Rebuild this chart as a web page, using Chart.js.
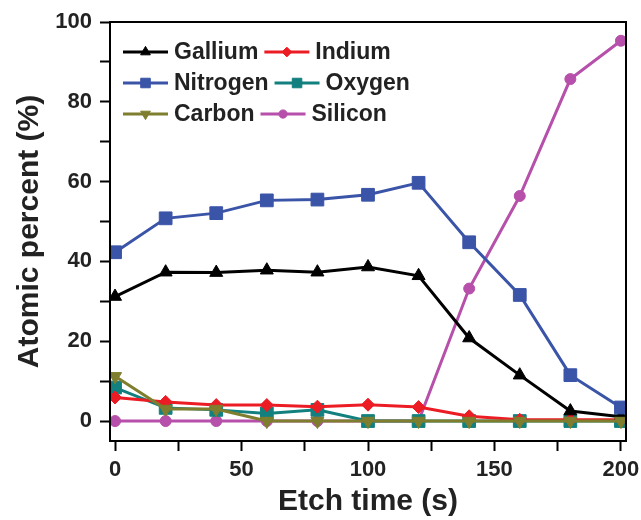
<!DOCTYPE html>
<html>
<head>
<meta charset="utf-8">
<script src="https://cdn.jsdelivr.net/npm/chart.js@4.4.1/dist/chart.umd.min.js"></script>
<style>
  html, body { margin: 0; padding: 0; background: #fff; }
  #wrap { width: 641px; height: 520px; }
</style>
</head>
<body>
<div id="wrap"><canvas id="myChart" width="641" height="520"></canvas></div>
<script>
// etch time (s)
const times = [0, 20, 40, 60, 80, 100, 120, 140, 160, 180, 200];

// atomic percent (%)
const gallium  = [31.2, 37.3, 37.2, 37.8, 37.3, 38.6, 36.4, 20.8, 11.5, 2.5, 1.1];
const indium   = [5.9, 4.8, 4.0, 4.0, 3.6, 4.1, 3.5, 1.2, 0.3, 0.3, 0.3];
const nitrogen = [42.3, 50.8, 52.1, 55.3, 55.5, 56.7, 59.7, 44.8, 31.6, 11.5, 3.4];
const oxygen   = [8.4, 3.3, 2.8, 1.9, 2.8, 0, 0, 0, 0, 0, 0];
const carbon   = [11.2, 3.0, 3.0, 0, 0, 0, 0, 0, 0, 0, 0];
const silicon  = [0, 0, 0, 0, 0, 0, 0, 33.2, 56.4, 85.7, 95.3];

// labelled ticks, and every tick mark (major + minor)
const xTickLabels = [0, 50, 100, 150, 200];
const yTickLabels = [0, 20, 40, 60, 80, 100];
const xTickMarks = [0, 25, 50, 75, 100, 125, 150, 175, 200];
const yTickMarks = [0, 10, 20, 30, 40, 50, 60, 70, 80, 90, 100];

const FONT = "'Liberation Sans', Arial, sans-serif";

function series(label, values, color, style, radius, rotation, order) {
  return {
    label: label,
    data: times.map((t, i) => ({ x: t, y: values[i] })),
    borderColor: color,
    backgroundColor: color,
    borderWidth: 3,
    pointStyle: style,
    pointRadius: radius,
    pointRotation: rotation,
    pointBorderWidth: 1,
    pointBorderColor: color,
    pointBackgroundColor: color,
    tension: 0,
    order: order
  };
}

const datasets = [
  series('Gallium', gallium, '#000000', 'triangle', 7.5, 0, 3),
  series('Indium', indium, '#ec1c24', 'rectRot', 6.5, 0, 4),
  series('Nitrogen', nitrogen, '#3a54a8', 'rect', 9, 0, 2),
  series('Oxygen', oxygen, '#12807e', 'rect', 9, 0, 5),
  series('Carbon', carbon, '#7e7e2e', 'triangle', 7.5, 180, 1),
  series('Silicon', silicon, '#b650aa', 'circle', 5.5, 0, 6)
];

// frame round the plot + legend inside it, two entries per row
const framePlugin = {
  id: 'frame',
  afterDatasetsDraw(chart) {
    const ctx = chart.ctx;
    const a = chart.chartArea;
    ctx.save();
    ctx.strokeStyle = '#000';
    ctx.lineWidth = 2;
    ctx.strokeRect(a.left, a.top, a.right - a.left, a.bottom - a.top);

    ctx.font = 'bold 23px ' + FONT;
    ctx.textBaseline = 'middle';
    const rows = [52, 83, 114];
    const ds = chart.data.datasets;
    for (let r = 0; r < 3; r++) {
      let x = 123;
      for (let c = 0; c < 2; c++) {
        const d = ds[r * 2 + c];
        const y = rows[r];
        ctx.strokeStyle = d.borderColor;
        ctx.fillStyle = d.borderColor;
        ctx.lineWidth = 3;
        ctx.beginPath();
        ctx.moveTo(x, y);
        ctx.lineTo(x + 45, y);
        ctx.stroke();
        ctx.lineWidth = 1;
        Chart.helpers.drawPoint(ctx, {
          pointStyle: d.pointStyle,
          rotation: d.pointRotation,
          radius: d.pointRadius * 0.75,
          borderWidth: 1
        }, x + 22.5, y);
        ctx.fillStyle = '#222';
        ctx.fillText(d.label, x + 51, y + 1);
        x += 51 + ctx.measureText(d.label).width + 6;
      }
    }
    ctx.restore();
  }
};

new Chart(document.getElementById('myChart'), {
  type: 'line',
  data: { datasets: datasets },
  options: {
    responsive: false,
    animation: false,
    layout: { padding: { top: 22, right: 15, bottom: 0, left: 0 } },
    plugins: {
      legend: { display: false },
      tooltip: { enabled: false }
    },
    scales: {
      x: {
        type: 'linear',
        min: -2,
        max: 202,
        afterBuildTicks: s => { s.ticks = xTickMarks.map(v => ({ value: v })); },
        afterFit: s => { s.height = 79; s.paddingLeft = 0; s.paddingRight = 0; },
        ticks: {
          autoSkip: false,
          maxRotation: 0,
          padding: 6,
          color: '#222',
          font: { family: FONT, size: 22, weight: 'bold' },
          callback: v => xTickLabels.includes(v) ? String(v) : ''
        },
        grid: {
          drawOnChartArea: false,
          tickLength: 10,
          tickWidth: 2,
          tickColor: '#000'
        },
        border: { color: '#000', width: 2 },
        title: {
          display: true,
          text: 'Etch time (s)',
          color: '#222',
          padding: { top: 0, bottom: 0 },
          font: { family: FONT, size: 30, weight: 'bold' }
        }
      },
      y: {
        min: -5,
        max: 100,
        afterBuildTicks: s => { s.ticks = yTickMarks.map(v => ({ value: v })); },
        afterFit: s => { s.width = 110; s.paddingTop = 0; s.paddingBottom = 0; },
        ticks: {
          autoSkip: false,
          padding: 8,
          color: '#222',
          font: { family: FONT, size: 22, weight: 'bold' },
          callback: v => yTickLabels.includes(v) ? String(v) : ''
        },
        grid: {
          drawOnChartArea: false,
          tickLength: 10,
          tickWidth: 2,
          tickColor: '#000'
        },
        border: { color: '#000', width: 2 },
        title: {
          display: true,
          text: 'Atomic percent (%)',
          color: '#222',
          padding: { top: 12, bottom: 0 },
          font: { family: FONT, size: 30, weight: 'bold' }
        }
      }
    }
  },
  plugins: [framePlugin]
});
</script>
</body>
</html>
